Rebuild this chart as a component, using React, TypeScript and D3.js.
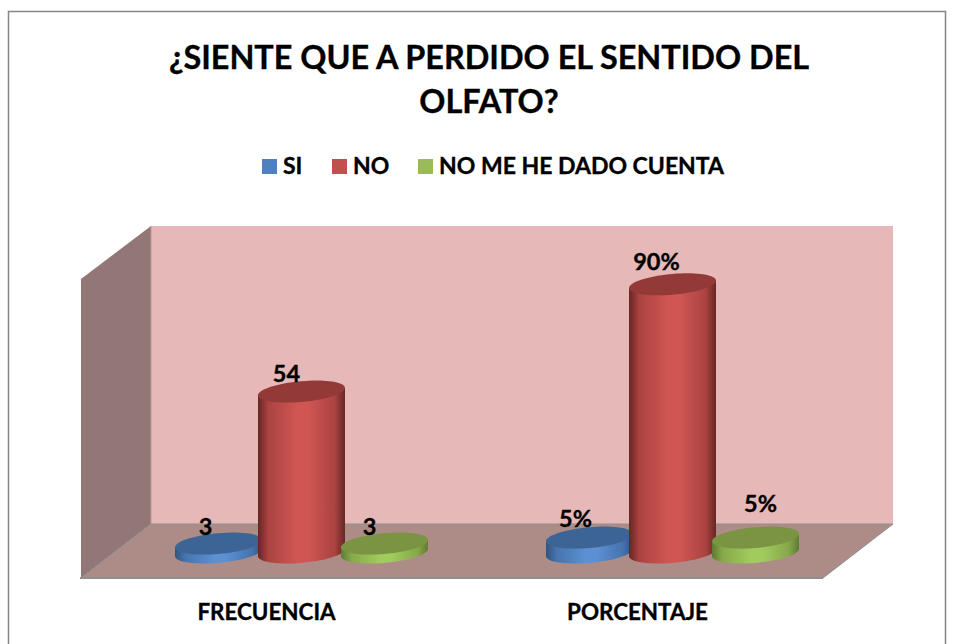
import React from "react";
import * as d3 from "d3";

const categories = ["FRECUENCIA", "PORCENTAJE"];
const seriesNames = ["SI", "NO", "NO ME HE DADO CUENTA"];
const seriesLight = ["#5b90d2", "#cf5653", "#a2cb5e"];
const seriesMid = ["#4674ad", "#ab4341", "#86a84a"];
const seriesDark = ["#2f5480", "#662624", "#5f7a32"];
const seriesTop = ["#3c6595", "#933a38", "#7a9443"];
const legendColors = ["#4f81bd", "#c0504d", "#9bbb59"];
const values = [
  [3, 54, 3],
  [5, 90, 5],
];
const labels = [
  ["3", "54", "3"],
  ["5%", "90%", "5%"],
];
const labelDx = [
  [-13, -15, -15],
  [-14, -16, 5],
];
const labelDy = [
  [-9, -10, -9],
  [-11, -14, -26],
];
const titleLines = ["¿SIENTE QUE A PERDIDO EL SENTIDO DEL", "OLFATO?"];

const FONT = "Lato, Carlito, Calibri, sans-serif";
const DEPTH_X = 70;
const DEPTH_Y = 54;
const floorFront = 578;
const wallLeft = 151;
const wallRight = 893;
const wallTop = 226;
const wallBottom = 524;
const baseY = 552.5;

const xCat = d3.scaleBand<string>().domain(categories).range([wallLeft - DEPTH_X / 2, wallRight - DEPTH_X / 2]);
const xSeries = d3
  .scaleBand<string>()
  .domain(seriesNames)
  .range([xCat.bandwidth() / 2 - 124.5, xCat.bandwidth() / 2 + 124.5]);
const h = d3.scaleLinear().domain([0, 100]).range([0, wallBottom - wallTop]);
const poly = d3.line();

const RX = 43.5;
const RY = 10.4;
const SHEAR = 0.085;

function ellipse(cx: number, cy: number): string {
  const n = 72;
  const pts: [number, number][] = d3.range(n).map((i) => {
    const t = (i / n) * 2 * Math.PI;
    return [cx + RX * Math.cos(t), cy + RY * Math.sin(t) - SHEAR * RX * Math.cos(t)];
  });
  return poly(pts) + "Z";
}

function body(cx: number, topY: number, botY: number): string {
  const n = 36;
  const front: [number, number][] = d3.range(n + 1).map((i) => {
    const t = (i / n) * Math.PI;
    return [cx + RX * Math.cos(t), botY + RY * Math.sin(t) - SHEAR * RX * Math.cos(t)];
  });
  const right: [number, number] = [cx + RX, topY - SHEAR * RX];
  const left: [number, number] = [cx - RX, topY + SHEAR * RX];
  return poly([right, ...front, left]) + "Z";
}

const heavy = { stroke: "#000", strokeWidth: 0.35 };

export default function App() {
  return (
    <svg
      width={960}
      height={644}
      style={{ position: "absolute", left: 0, top: 0, background: "#fff" }}
      fontFamily={FONT}
      fontWeight={700}
    >
      <defs>
        {seriesNames.map((_, i) => (
          <linearGradient key={i} id={`g${i}`} x1="0" x2="1" y1="0" y2="0">
            <stop offset="0" stopColor={seriesDark[i]} />
            <stop offset="0.12" stopColor={seriesMid[i]} />
            <stop offset="0.45" stopColor={seriesLight[i]} />
            <stop offset="0.58" stopColor={seriesLight[i]} />
            <stop offset="0.88" stopColor={seriesMid[i]} />
            <stop offset="1" stopColor={seriesDark[i]} />
          </linearGradient>
        ))}
      </defs>
      <rect x={8.5} y={11.5} width={937} height={640} fill="#fff" stroke="#868686" strokeWidth={1.5} />

      {titleLines.map((t, i) => (
        <text key={t} x={489} y={69 + i * 44} textAnchor="middle" fontSize={32.4} fill="#000" {...heavy}>
          {t}
        </text>
      ))}

      {seriesNames.map((s, i) => {
        const sx = [262, 332, 418][i];
        return (
          <g key={s}>
            <rect x={sx} y={159} width={15} height={15} fill={legendColors[i]} />
            <text x={sx + 21} y={174} fontSize={23} fill="#000" {...heavy}>
              {s}
            </text>
          </g>
        );
      })}

      <path
        d={poly([[wallLeft, wallTop], [wallRight, wallTop], [wallRight, wallBottom], [wallLeft, wallBottom]]) + "Z"}
        fill="#e6b8b7"
      />
      <path
        d={poly([[wallLeft - DEPTH_X, wallTop + DEPTH_Y - 1], [wallLeft, wallTop], [wallLeft, wallBottom], [wallLeft - DEPTH_X, floorFront]]) + "Z"}
        fill="#937676"
      />
      <path
        d={poly([[wallLeft - DEPTH_X, floorFront], [wallLeft, wallBottom], [wallRight, wallBottom], [wallRight - DEPTH_X, floorFront]]) + "Z"}
        fill="#ad8c88"
        stroke="#8e9090"
        strokeWidth={1}
      />
      <path d={poly([[wallLeft, wallTop], [wallLeft, wallBottom]]) ?? ""} stroke="#b99a9a" strokeWidth={1} />
      <path d={poly([[wallLeft - DEPTH_X - 1, floorFront], [wallRight - DEPTH_X, floorFront]]) ?? ""} stroke="#8e9090" strokeWidth={2} />

      {categories.map((c, ci) => {
        const x0 = xCat(c)!;
        return (
          <g key={c}>
            {seriesNames.map((s, si) => {
              const cx = x0 + xSeries(s)! + xSeries.bandwidth() / 2;
              const topY = baseY - h(values[ci][si]);
              return (
                <g key={s}>
                  <path d={body(cx, topY, baseY)} fill={`url(#g${si})`} />
                  <path d={ellipse(cx, topY)} fill={seriesTop[si]} />
                </g>
              );
            })}
            {seriesNames.map((s, si) => {
              const cx = x0 + xSeries(s)! + xSeries.bandwidth() / 2;
              const topY = baseY - h(values[ci][si]);
              return (
                <text key={s} x={cx + labelDx[ci][si]} y={topY + labelDy[ci][si]} textAnchor="middle" fontSize={23.5} fill="#000" {...heavy}>
                  {labels[ci][si]}
                </text>
              );
            })}
            <text x={x0 + xCat.bandwidth() / 2 - DEPTH_X / 2} y={620} textAnchor="middle" fontSize={22.4} fill="#000" {...heavy}>
              {c}
            </text>
          </g>
        );
      })}
    </svg>
  );
}
